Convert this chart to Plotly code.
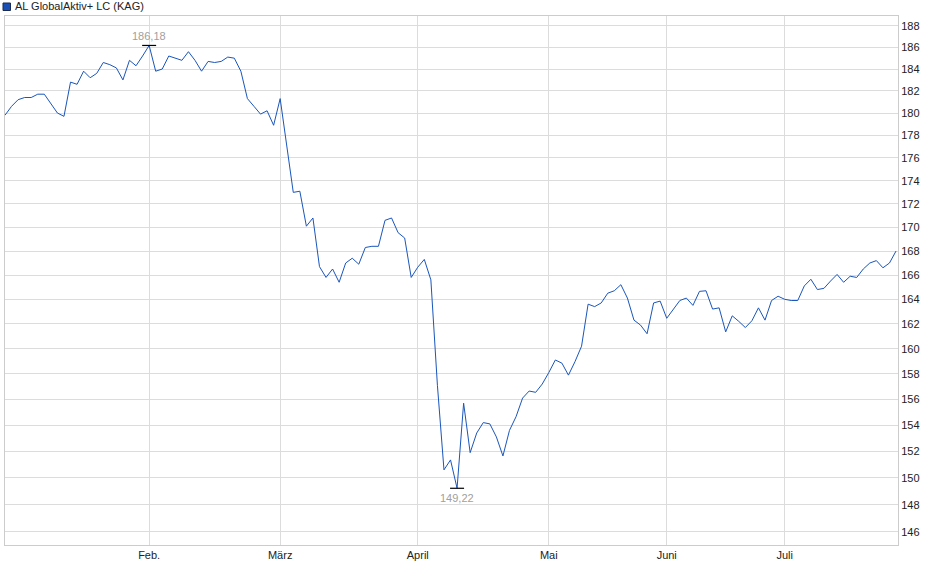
import math
import plotly.graph_objects as go

# daily prices (trading days)
prices = [
    179.8, 180.6, 181.2, 181.4, 181.4, 181.7, 181.7, 180.8, 180.0, 179.7,
    182.8, 182.6, 183.8, 183.2, 183.6, 184.6, 184.4, 184.1, 183.0, 184.8,
    184.3, 185.2, 186.18, 183.8, 184.0, 185.2, 185.0, 184.8, 185.6, 184.8,
    183.8, 184.7, 184.6, 184.7, 185.1, 185.0, 183.8, 181.3, 180.6, 179.9,
    180.2, 178.9, 181.3, 177.15, 173.0, 173.1, 170.1, 170.8, 166.7, 165.8,
    166.5, 165.4, 167.0, 167.4, 166.9, 168.3, 168.4, 168.4, 170.6, 170.8,
    169.55, 169.1, 165.8, 166.65, 167.3, 165.6, 157.1, 150.6, 151.35, 149.22,
    155.7, 151.9, 153.4, 154.2, 154.1, 153.1, 151.65, 153.6, 154.65, 156.1,
    156.65, 156.55, 157.2, 158.1, 159.1, 158.85, 157.9, 158.97, 160.2, 163.6,
    163.4, 163.7, 164.5, 164.7, 165.2, 164.1, 162.3, 161.9, 161.2, 163.7,
    163.85, 162.45, 163.2, 163.9, 164.1, 163.5, 164.65, 164.7, 163.2, 163.3,
    161.35, 162.65, 162.2, 161.7, 162.25, 163.3, 162.3, 163.9, 164.25, 164.0,
    163.9, 163.9, 165.1, 165.65, 164.8, 164.9, 165.5, 166.05, 165.4, 165.9,
    165.8, 166.5, 167.0, 167.2, 166.6, 167.0, 168.0,
]
days = list(range(len(prices)))

# first trading day of each month
month_pos = [22, 42, 63, 83, 101, 119]
month_labels = ["Feb.", "März", "April", "Mai", "Juni", "Juli"]

y_ticks = list(range(146, 189, 2))

series_name = "AL GlobalAktiv+ LC (KAG)"
line_col = "#1a56bb"
font = "Liberation Sans, Arial, sans-serif"


def de_num(v):
    return f"{v:.2f}".replace(".", ",")


i_max = prices.index(max(prices))
i_min = prices.index(min(prices))

fig = go.Figure()
fig.add_trace(go.Scatter(x=days, y=prices, mode="lines",
                         line=dict(color=line_col, width=1),
                         name=series_name, showlegend=False, hoverinfo="x+y"))
# high / low markers (small horizontal bars)
fig.add_trace(go.Scatter(x=[days[i_max], days[i_min]], y=[prices[i_max], prices[i_min]],
                         mode="markers",
                         marker=dict(symbol="line-ew", size=10, line=dict(color="#000", width=1.2)),
                         showlegend=False, hoverinfo="skip"))
fig.add_annotation(x=days[i_max], y=math.log10(prices[i_max]), text=de_num(prices[i_max]),
                   showarrow=False, yanchor="bottom", yshift=1,
                   font=dict(color="#a0a0a0", size=11, family=font))
fig.add_annotation(x=days[i_min], y=math.log10(prices[i_min]), text=de_num(prices[i_min]),
                   showarrow=False, yanchor="top", yshift=-2,
                   font=dict(color="#a0a0a0", size=11, family=font))

W, H = 940, 579
ml, mr, mt, mb = 5, 42, 16, 34
pw, ph = W - ml - mr, H - mt - mb


def px_x(p):
    return (p - ml) / pw


def px_y(p):
    return 1 + (mt - p) / ph


# legend box drawn by hand (square swatch + label)
fig.add_shape(type="rect", xref="paper", yref="paper",
              x0=px_x(3), x1=px_x(10.5), y0=px_y(10.5), y1=px_y(3),
              fillcolor="#1a4fb5", line=dict(color="#1b2a50", width=1))
fig.add_annotation(xref="paper", yref="paper", x=px_x(13), y=px_y(6.5),
                   xanchor="left", yanchor="middle", showarrow=False,
                   text=series_name, font=dict(size=11, color="#222", family=font))

fig.update_layout(
    width=W, height=H,
    margin=dict(l=ml, r=mr, t=mt, b=mb),
    paper_bgcolor="white", plot_bgcolor="white",
    font=dict(family=font, size=11, color="#222"),
    showlegend=False,
)
fig.update_xaxes(range=[0, 136.3], tickmode="array", tickvals=month_pos, ticktext=month_labels,
                 showgrid=True, gridcolor="#dcdcdc", gridwidth=1, zeroline=False,
                 showline=True, linecolor="#cccccc", mirror=True, ticks="",
                 tickfont=dict(size=11, color="#222"))
fig.update_yaxes(type="log", side="right",
                 range=[math.log10(145.05), math.log10(188.94)],
                 tickmode="array", tickvals=y_ticks, ticktext=[str(v) for v in y_ticks],
                 showgrid=True, gridcolor="#dcdcdc", gridwidth=1, zeroline=False,
                 showline=True, linecolor="#cccccc", mirror=True, ticks="",
                 tickfont=dict(size=11, color="#222"))

# drop the browser's default body margin so the chart sits at the page corner
fig.write_html("out.html", config={"displayModeBar": False},
               post_script="document.body.style.margin='0';")
